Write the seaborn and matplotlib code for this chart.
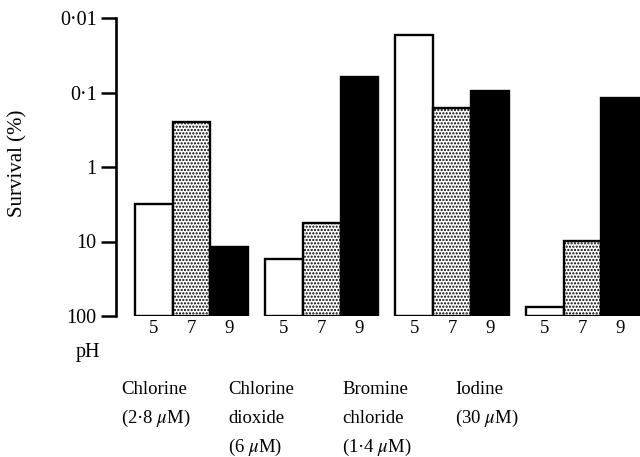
import numpy as np
import pandas as pd
import matplotlib
matplotlib.use("Agg")
import matplotlib.pyplot as plt
import seaborn as sns

# ---- data ----
agents = ["Chlorine", "Chlorine dioxide", "Bromine chloride", "Iodine"]
agent_label_lines = [
    ["Chlorine", "(2·8 $\\mu$M)"],
    ["Chlorine", "dioxide", "(6 $\\mu$M)"],
    ["Bromine", "chloride", "(1·4 $\\mu$M)"],
    ["Iodine", "(30 $\\mu$M)"],
]
ph_levels = ["5", "7", "9"]
survival_ph5 = [3.1, 17.0, 0.017, 75.0]
survival_ph7 = [0.25, 5.7, 0.16, 9.7]
survival_ph9 = [12.0, 0.061, 0.096, 0.12]
y_tick_values = [100, 10, 1, 0.1, 0.01]
y_tick_labels = ["100", "10", "1", "0·1", "0·01"]

rows = []
for ph, vals in zip(ph_levels, [survival_ph5, survival_ph7, survival_ph9]):
    for a, v in zip(agents, vals):
        rows.append({"agent": a, "pH": ph, "survival": v})
df = pd.DataFrame(rows)
# bars rise from 100 % survival: height = decades of kill (log10(100 / survival))
df["reduction"] = np.log10(100.0 / df["survival"])

sns.set_style("white")
plt.rcParams["font.family"] = ["Liberation Serif", "DejaVu Serif"]
plt.rcParams["mathtext.fontset"] = "stix"
plt.rcParams["hatch.linewidth"] = 1.05
for k in ["text.color", "axes.labelcolor", "xtick.color", "ytick.color"]:
    plt.rcParams[k] = "black"

fig = plt.figure(figsize=(6.4, 4.57), dpi=100)
ax = fig.add_axes([116 / 640, 1 - 316 / 457, (640 - 116) / 640, (316 - 18) / 457])

sns.barplot(data=df, x="agent", y="reduction", hue="pH", order=agents,
            hue_order=ph_levels, palette=["white", "white", "black"],
            width=0.87, gap=0, edgecolor="black", linewidth=1.7,
            saturation=1, errorbar=None, legend=False, ax=ax)

bars = [p for p in ax.patches]
n = len(agents)
for p in bars[n:2 * n]:
    p.set_hatch(".....")

centers = [p.get_x() + p.get_width() / 2 for p in bars]
labels = [ph_levels[i // n] for i in range(len(bars))]
ax.set_xticks(centers)
ax.set_xticklabels(labels)
ax.tick_params(axis="x", length=0, pad=3, labelsize=13.5)

ax.set_ylim(0, 4)
ax.set_xlim(-0.579, 3.442)
ax.set_yticks([np.log10(100.0 / v) for v in y_tick_values])
ax.set_yticklabels(y_tick_labels)
ax.tick_params(axis="y", length=11, width=1.8, direction="out", pad=3,
               labelsize=14.5, left=True, color="black")

for s in ["top", "right", "bottom"]:
    ax.spines[s].set_visible(False)
ax.spines["left"].set_linewidth(1.9)
ax.spines["left"].set_color("black")

ax.set_xlabel("")
ax.set_ylabel("Survival (%)", fontsize=15)
ax.yaxis.set_label_coords(-0.168, 0.513)

fig.text(88 / 640, 1 - 352 / 457, "pH", ha="center", va="center", fontsize=14.5)

label_left_px = [121, 228, 342, 455]
for i, lines in enumerate(agent_label_lines):
    for j, line in enumerate(lines):
        fig.text(label_left_px[i] / 640, 1 - (390 + 28.5 * j) / 457, line,
                 ha="left", va="center", fontsize=13.5)

fig.savefig("out.png", dpi=100)
